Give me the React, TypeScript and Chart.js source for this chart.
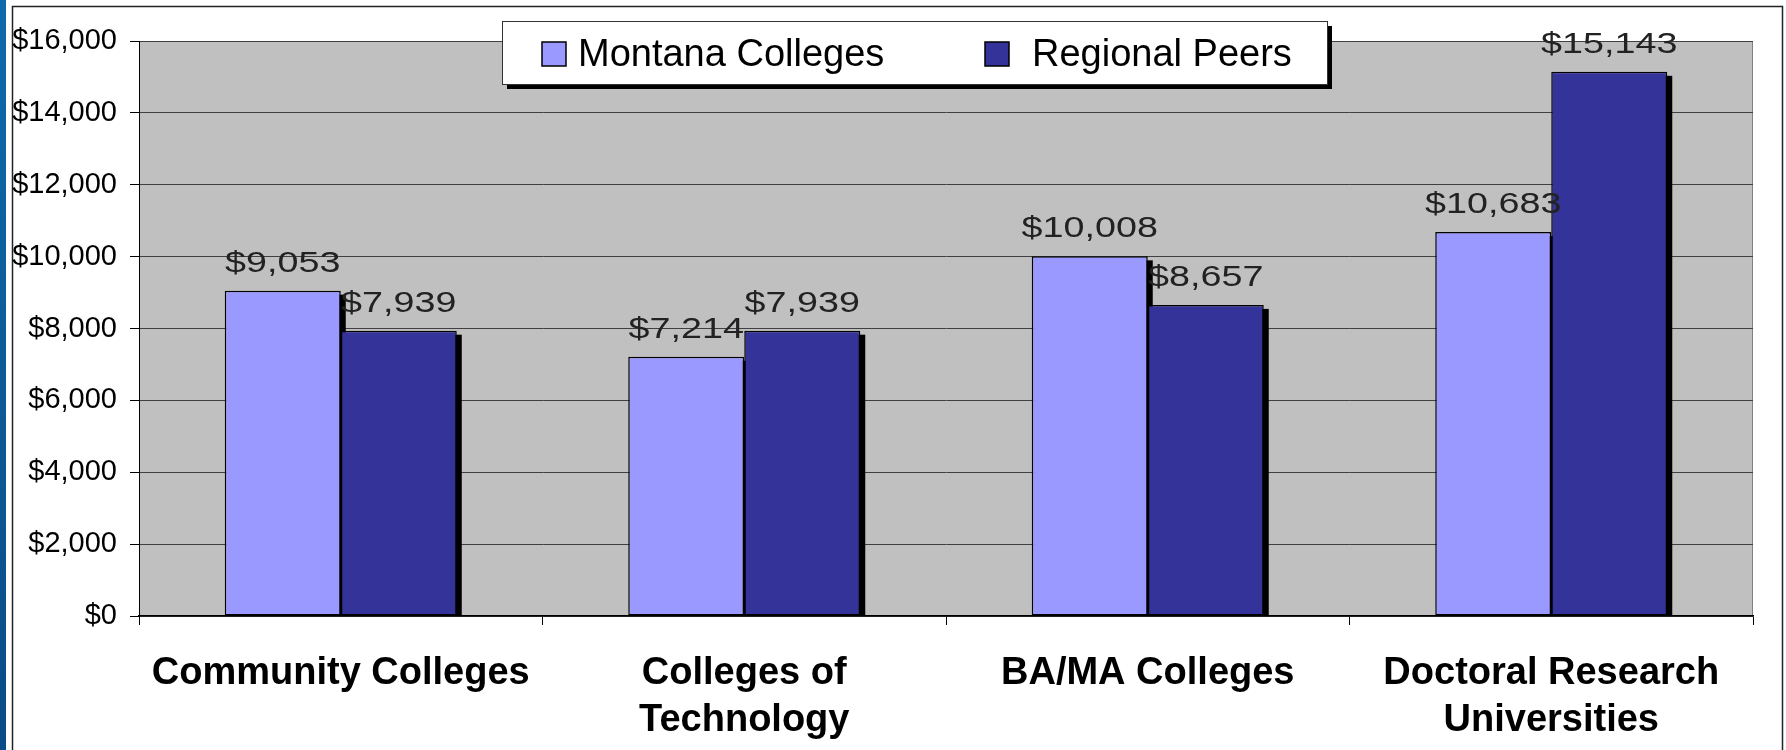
import React, { useEffect, useRef } from 'react';
import { Chart, registerables } from 'chart.js';

Chart.register(...registerables);

// Institution groups (multi-line axis labels)
const categories: string[][] = [
  ['Community Colleges'],
  ['Colleges of', 'Technology'],
  ['BA/MA Colleges'],
  ['Doctoral Research', 'Universities'],
];

// Spending per student, in dollars
const montanaValues = [9053, 7214, 10008, 10683];
const peerValues = [7939, 7939, 8657, 15143];

const seriesNames = ['Montana Colleges', 'Regional Peers'];
const seriesColors = ['#9999FF', '#333399'];

const yMin = 0;
const yMax = 16000;
const yStep = 2000;

const FONT = '"Liberation Sans", Arial, Helvetica, sans-serif';

const money = (v: number) => '$' + Number(v).toLocaleString('en-US');

// Page frame, blue edge strip and the grey plot background
const framePlugin = {
  id: 'frame',
  beforeDraw(chart: any) {
    const { ctx, chartArea: a, width, height } = chart;
    ctx.save();
    ctx.fillStyle = '#ffffff';
    ctx.fillRect(0, 0, width, height);

    const g = ctx.createLinearGradient(0, 0, 0, height);
    g.addColorStop(0, '#0f6aab');
    g.addColorStop(1, '#0a4c86');
    ctx.fillStyle = g;
    ctx.fillRect(0, 0, 6, height);

    ctx.strokeStyle = '#222222';
    ctx.lineWidth = 1.5;
    ctx.beginPath();
    ctx.moveTo(12.5, height);
    ctx.lineTo(12.5, 6.5);
    ctx.lineTo(width - 3.5, 6.5);
    ctx.lineTo(width - 3.5, height);
    ctx.stroke();

    ctx.fillStyle = '#C0C0C0';
    ctx.fillRect(a.left, a.top, a.right - a.left, a.bottom - a.top);
    ctx.strokeStyle = '#808080';
    ctx.lineWidth = 1;
    ctx.strokeRect(a.left + 0.5, a.top + 0.5, a.right - a.left - 1, a.bottom - a.top);
    ctx.restore();
  },
};

// Drop shadows behind each bar
const shadowPlugin = {
  id: 'barShadows',
  beforeDatasetsDraw(chart: any) {
    const { ctx } = chart;
    ctx.save();
    ctx.fillStyle = '#000000';
    chart.data.datasets.forEach((_ds: any, i: number) => {
      const meta = chart.getDatasetMeta(i);
      meta.data.forEach((bar: any) => {
        const { x, y, base, width } = bar.getProps(['x', 'y', 'base', 'width'], true);
        ctx.fillRect(x - width / 2 + 5, y + 4, width, base - y - 4);
      });
    });
    ctx.restore();
  },
};

// Dollar value above each bar
const valueLabelPlugin = {
  id: 'valueLabels',
  afterDatasetsDraw(chart: any) {
    const { ctx } = chart;
    ctx.save();
    ctx.font = `29px ${FONT}`;
    ctx.fillStyle = '#222222';
    ctx.textAlign = 'center';
    ctx.textBaseline = 'middle';
    chart.data.datasets.forEach((ds: any, i: number) => {
      const meta = chart.getDatasetMeta(i);
      meta.data.forEach((bar: any, j: number) => {
        const { x, y } = bar.getProps(['x', 'y'], true);
        ctx.save();
        ctx.translate(x, y - 27);
        ctx.scale(1.3, 1);
        ctx.fillText(money(ds.data[j]), 0, 0);
        ctx.restore();
      });
    });
    ctx.restore();
  },
};

// Boxed legend with shadow, overlapping the top of the plot
const legendPlugin = {
  id: 'boxLegend',
  afterDraw(chart: any) {
    const { ctx } = chart;
    const box = { x: 502, y: 21, w: 825, h: 63 };
    ctx.save();
    ctx.fillStyle = '#000000';
    ctx.fillRect(box.x + 5, box.y + 5, box.w, box.h);
    ctx.fillStyle = '#ffffff';
    ctx.fillRect(box.x, box.y, box.w, box.h);
    ctx.strokeStyle = '#333333';
    ctx.lineWidth = 1;
    ctx.strokeRect(box.x + 0.5, box.y + 0.5, box.w, box.h);

    const items = [
      { sx: 542, tx: 578 },
      { sx: 985, tx: 1032 },
    ];
    ctx.font = `38px ${FONT}`;
    ctx.textBaseline = 'alphabetic';
    ctx.textAlign = 'left';
    items.forEach((it, i) => {
      ctx.fillStyle = seriesColors[i];
      ctx.fillRect(it.sx, 42, 24, 24);
      ctx.strokeStyle = '#000000';
      ctx.lineWidth = 1.5;
      ctx.strokeRect(it.sx, 42, 24, 24);
      ctx.fillStyle = '#000000';
      ctx.fillText(seriesNames[i], it.tx, 66);
    });
    ctx.restore();
  },
};

export default function App() {
  const canvasRef = useRef<HTMLCanvasElement | null>(null);

  useEffect(() => {
    if (!canvasRef.current) return;
    Chart.defaults.font.family = FONT;

    const chart = new Chart(canvasRef.current, {
      type: 'bar',
      data: {
        labels: categories,
        datasets: [
          {
            label: seriesNames[0],
            data: montanaValues,
            backgroundColor: seriesColors[0],
            borderColor: '#000000',
            borderWidth: 1.5,
            borderSkipped: false,
          },
          {
            label: seriesNames[1],
            data: peerValues,
            backgroundColor: seriesColors[1],
            borderColor: '#000000',
            borderWidth: 1.5,
            borderSkipped: false,
          },
        ],
      },
      options: {
        responsive: true,
        maintainAspectRatio: false,
        animation: false,
        layout: { padding: { left: 0, right: 33, top: 41, bottom: 0 } },
        datasets: { bar: { categoryPercentage: 0.575, barPercentage: 1 } },
        plugins: {
          legend: { display: false },
          tooltip: { enabled: false },
        },
        scales: {
          x: {
            grid: {
              offset: true,
              drawOnChartArea: false,
              drawTicks: true,
              tickLength: 9,
              tickColor: '#000000',
              tickWidth: 1,
            },
            border: { color: '#000000', width: 1.5 },
            ticks: {
              color: '#000000',
              font: { size: 38, weight: 'bold', lineHeight: 1.24 },
              padding: 25,
              maxRotation: 0,
              autoSkip: false,
            },
            afterFit: (s: any) => {
              s.height = 134;
            },
          },
          y: {
            min: yMin,
            max: yMax,
            ticks: {
              stepSize: yStep,
              color: '#000000',
              font: { size: 29 },
              padding: 13,
              callback: (v: any) => money(v),
            },
            grid: {
              color: '#404040',
              lineWidth: 1,
              tickColor: '#000000',
              tickLength: 9,
            },
            border: { color: '#000000', width: 1 },
            afterFit: (s: any) => {
              s.width = 139;
            },
          },
        },
      },
      plugins: [framePlugin, shadowPlugin, valueLabelPlugin, legendPlugin],
    } as any);

    return () => chart.destroy();
  }, []);

  return (
    <div style={{ position: 'absolute', left: 0, top: 0, width: 1786, height: 750 }}>
      <canvas ref={canvasRef} style={{ display: 'block' }} />
    </div>
  );
}
